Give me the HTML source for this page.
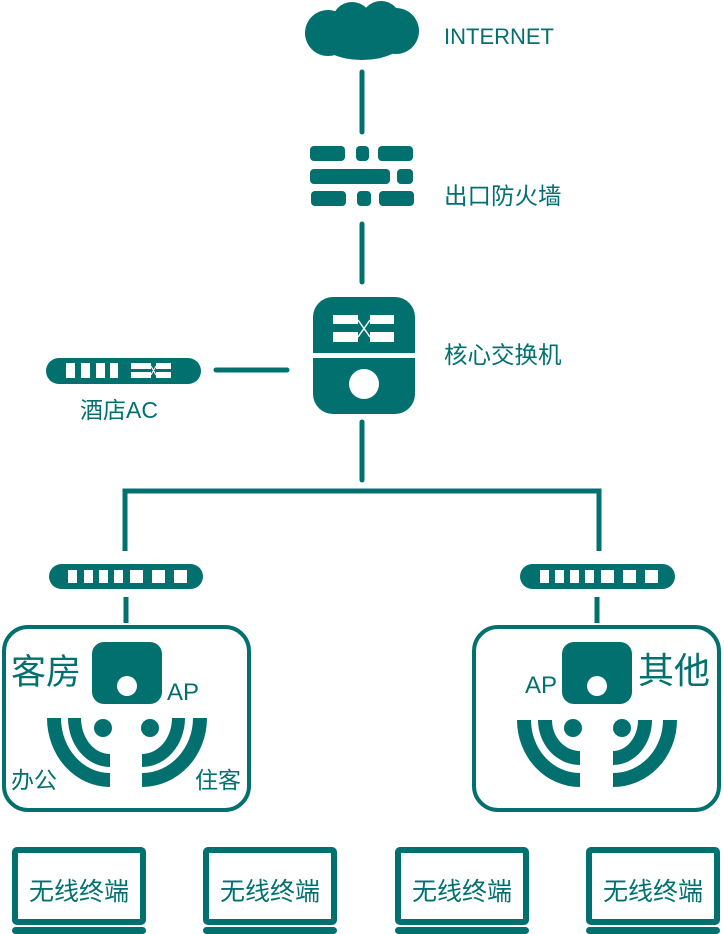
<!DOCTYPE html>
<html><head><meta charset="utf-8"><style>
html,body{margin:0;padding:0;background:#fff;}
svg{display:block;}
text{font-family:"Liberation Sans","Noto Sans CJK SC",sans-serif;fill:#037070;}
</style></head><body>
<svg width="724" height="934" viewBox="0 0 724 934" xmlns="http://www.w3.org/2000/svg">
<g fill="#037070">
<circle cx="328" cy="33" r="23"/>
<circle cx="352" cy="22" r="20"/>
<circle cx="381" cy="21" r="20"/>
<circle cx="396" cy="31" r="23"/>
<ellipse cx="362" cy="40" rx="42" ry="20"/>
<rect x="310" y="146" width="35" height="15" rx="4"/>
<rect x="356" y="146" width="13" height="15" rx="4"/>
<rect x="378" y="146" width="35" height="15" rx="4"/>
<rect x="310" y="169" width="80" height="15" rx="4"/>
<rect x="397" y="169" width="16" height="15" rx="4"/>
<rect x="311" y="191" width="35" height="15" rx="4"/>
<rect x="357" y="191" width="14" height="15" rx="4"/>
<rect x="379" y="191" width="35" height="15" rx="4"/>
<path d="M333,297 H395 A20,20 0 0 1 415,317 V353 H313 V317 A20,20 0 0 1 333,297 Z"/>
<path d="M313,358 H415 V394 A20,20 0 0 1 395,414 H333 A20,20 0 0 1 313,394 Z"/>
</g>
<g fill="#fff">
<rect x="333" y="315" width="25" height="9"/><rect x="370" y="315" width="24" height="9"/>
<rect x="333" y="332" width="25" height="10"/><rect x="370" y="332" width="24" height="10"/>
<circle cx="364" cy="384" r="15"/>
</g>
<path d="M358,320 L370,337 M358,337 L370,320" stroke="#fff" stroke-width="1.5"/>
<rect x="46" y="358" width="155" height="26" rx="13" fill="#037070"/>
<g fill="#fff">
<rect x="66" y="363" width="9" height="15"/><rect x="81" y="363" width="9" height="15"/>
<rect x="96" y="363" width="9" height="15"/><rect x="110" y="363" width="8" height="15"/>
<rect x="131" y="363" width="20" height="6"/><rect x="156" y="363" width="15" height="6"/>
<rect x="131" y="372" width="20" height="6"/><rect x="156" y="372" width="15" height="6"/>
</g>
<path d="M151,366 L156,375 M151,375 L156,366" stroke="#fff" stroke-width="1"/>
<g stroke="#037070" stroke-width="5" stroke-linecap="round" fill="none">
<line x1="362" y1="72" x2="362" y2="132"/>
<line x1="362" y1="224" x2="362" y2="282"/>
<line x1="216" y1="370" x2="287" y2="370"/>
<line x1="362" y1="422" x2="362" y2="480"/>
<path d="M125,551 V491 H599 V551" stroke-linecap="butt"/>
<line x1="126" y1="597" x2="126" y2="623" stroke-linecap="butt"/>
<line x1="597" y1="597" x2="597" y2="623" stroke-linecap="butt"/>
</g>
<rect x="49" y="564" width="154" height="25" rx="12.5" fill="#037070"/>
<rect x="520" y="564" width="155" height="25" rx="12.5" fill="#037070"/>
<g fill="#fff">
<rect x="68" y="570" width="9" height="13"/><rect x="84" y="570" width="9" height="13"/><rect x="99" y="570" width="9" height="13"/><rect x="114" y="570" width="9" height="13"/><rect x="130" y="570" width="13" height="13"/><rect x="152" y="570" width="13" height="13"/><rect x="174" y="570" width="13" height="13"/>
<rect x="540" y="570" width="9" height="13"/><rect x="555" y="570" width="9" height="13"/><rect x="570" y="570" width="9" height="13"/><rect x="585" y="570" width="9" height="13"/><rect x="601" y="570" width="13" height="13"/><rect x="623" y="570" width="13" height="13"/><rect x="645" y="570" width="13" height="13"/>
</g>
<rect x="4" y="627" width="245" height="183" rx="24" fill="none" stroke="#037070" stroke-width="4"/>
<rect x="474" y="627" width="245" height="183" rx="24" fill="none" stroke="#037070" stroke-width="4"/>
<g fill="#037070">
<rect x="92" y="642" width="70" height="62" rx="12"/>
<rect x="562" y="642" width="70" height="62" rx="12"/>
<path d="M47,718 A63,69 0 0 0 110,787 V773 A49,55 0 0 1 61,718 Z"/>
<path d="M68,718 A42,49 0 0 0 110,767 V754 A29,36 0 0 1 81,718 Z"/>
<path d="M207,718 A65,69 0 0 1 142,787 V773 A51,55 0 0 0 193,718 Z"/>
<path d="M185,718 A43,49 0 0 1 142,767 V754 A30,36 0 0 0 172,718 Z"/>
<circle cx="103" cy="728" r="9"/><circle cx="150" cy="728" r="9"/>
<path d="M517,720 A63,67 0 0 0 580,787 V773 A49,53 0 0 1 531,720 Z"/>
<path d="M538,720 A42,45 0 0 0 580,765 V751 A28,31 0 0 1 552,720 Z"/>
<path d="M677,720 A64,67 0 0 1 613,787 V773 A50,53 0 0 0 663,720 Z"/>
<path d="M652,720 A39,45 0 0 1 613,765 V751 A25,31 0 0 0 638,720 Z"/>
<circle cx="573" cy="728" r="9"/><circle cx="622" cy="728" r="9"/>
</g>
<circle cx="127" cy="686" r="10" fill="#fff"/>
<circle cx="597" cy="686" r="10" fill="#fff"/>
<g fill="none" stroke="#037070" stroke-width="6">
<rect x="15" y="850" width="128" height="72" rx="2"/>
<rect x="206" y="850" width="128" height="72" rx="2"/>
<rect x="398" y="850" width="128" height="72" rx="2"/>
<rect x="589" y="850" width="128" height="72" rx="2"/>
</g>
<g fill="#037070">
<rect x="12" y="927" width="134" height="7" rx="3.5"/>
<rect x="203" y="927" width="134" height="7" rx="3.5"/>
<rect x="395" y="927" width="134" height="7" rx="3.5"/>
<rect x="586" y="927" width="134" height="7" rx="3.5"/>
</g>
<text x="444" y="44" font-size="22">INTERNET</text>
<text x="444" y="204" font-size="23.5">出口防火墙</text>
<text x="444" y="363" font-size="23.5">核心交换机</text>
<text x="80" y="418" font-size="23">酒店AC</text>
<text x="11" y="684" font-size="35">客房</text>
<text x="167" y="700" font-size="24">AP</text>
<text x="11" y="788" font-size="23">办公</text>
<text x="195" y="788" font-size="23">住客</text>
<text x="638" y="683" font-size="36">其他</text>
<text x="525" y="693" font-size="24">AP</text>
<g font-size="25" text-anchor="middle">
<text x="79" y="900">无线终端</text>
<text x="270" y="900">无线终端</text>
<text x="462" y="900">无线终端</text>
<text x="653" y="900">无线终端</text>
</g>
</svg>
</body></html>
